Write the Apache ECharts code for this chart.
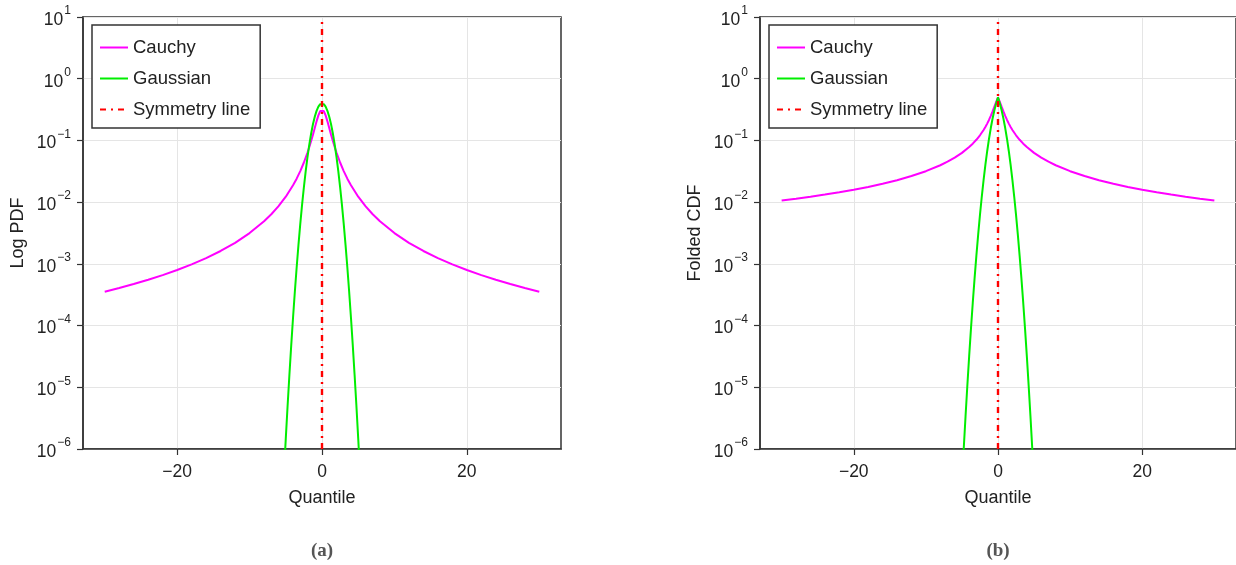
<!DOCTYPE html>
<html>
<head>
<meta charset="utf-8">
<script src="https://cdn.jsdelivr.net/npm/echarts@6/dist/echarts.min.js"></script>
<style>
  html, body { margin: 0; padding: 0; background: #fff; }
  #main { width: 1236px; height: 565px; }
</style>
</head>
<body>
<div id="main"></div>
<script>
// right half of each curve (x >= 0), mirrored below
const cauchyX = [0, 0.25, 0.5, 0.75, 1, 1.25, 1.5, 1.75, 2, 2.5, 3, 3.5, 4, 5, 6, 7, 8, 10, 12, 14, 16, 18, 20, 22, 24, 26, 28, 30];
const cauchyPdf = [0.3183, 0.2996, 0.2546, 0.2037, 0.1592, 0.1242, 0.09794, 0.07835, 0.06366, 0.04390, 0.03183, 0.02402, 0.01872, 0.01224, 0.008603, 0.006366, 0.004897, 0.003152, 0.002194, 0.001616, 0.001239, 0.0009794, 0.0007938, 0.0006563, 0.0005517, 0.0004702, 0.0004055, 0.0003533];
const cauchyFolded = [0.5, 0.4220, 0.3524, 0.2952, 0.25, 0.2148, 0.1872, 0.1652, 0.1476, 0.1211, 0.1024, 0.0886, 0.0780, 0.0628, 0.0526, 0.0452, 0.0396, 0.03173, 0.02646, 0.02270, 0.01987, 0.01766, 0.01590, 0.01446, 0.01325, 0.01224, 0.01136, 0.01061];

const gaussX = [0, 0.25, 0.5, 0.75, 1, 1.25, 1.5, 1.75, 2, 2.25, 2.5, 2.75, 3, 3.25, 3.5, 3.75, 4, 4.25, 4.5, 4.75, 5, 5.25, 5.5];
const gaussPdf = [0.3989, 0.3867, 0.3521, 0.3011, 0.2420, 0.1826, 0.1295, 0.08628, 0.05399, 0.03174, 0.01753, 0.009094, 0.004432, 0.002029, 0.0008727, 0.0003526, 0.0001338, 0.0000477, 0.00001598, 0.00000503, 0.000001487, 0.000000413, 0.000000108];
const gaussFolded = [0.5, 0.4013, 0.3085, 0.2266, 0.1587, 0.1056, 0.06681, 0.04006, 0.02275, 0.01222, 0.006210, 0.002980, 0.001350, 0.000577, 0.0002326, 0.0000884, 0.00003167, 0.0000107, 0.000003398, 0.000001017, 0.0000002867, 0.000000076, 0.000000019];

const symmetryX = 0;
const xTicks = [-20, 0, 20];
const yMin = 1e-6, yMax = 10;

const names = ['Cauchy', 'Gaussian', 'Symmetry line'];
const yNames = ['Log PDF', 'Folded CDF'];
const captions = ['(a)', '(b)'];

function mirror(xs, ys) {
  const out = [];
  for (let i = xs.length - 1; i > 0; i--) out.push([-xs[i], ys[i]]);
  for (let i = 0; i < xs.length; i++) out.push([xs[i], ys[i]]);
  return out;
}

const FONT = '"Liberation Sans", Arial, sans-serif';
const AX = '#222';

function supLabel(v) {
  const e = Math.round(Math.log10(v));
  return '{b|10}{s|' + (e < 0 ? '\u2212' + (-e) : e) + '}';
}

const gridLefts = [83, 760];
const gridWidths = [478, 476];
const grids = gridLefts.map((l, i) => ({
  left: l, top: 17, width: gridWidths[i], height: 432,
  show: true, borderColor: '#333', borderWidth: 1.5, backgroundColor: 'transparent'
}));

const xAxes = [0, 1].map(i => ({
  gridIndex: i, type: 'value', min: -33, max: 33,
  name: 'Quantile', nameLocation: 'middle', nameGap: 40,
  nameTextStyle: { fontFamily: FONT, fontSize: 18, color: AX },
  axisLine: { show: true, onZero: false, lineStyle: { color: '#333', width: 1.5 } },
  axisTick: { show: true, length: 6, customValues: xTicks, lineStyle: { color: '#333', width: 1.2 } },
  axisLabel: {
    customValues: xTicks, margin: 14, fontFamily: FONT, fontSize: 17.5, color: AX,
    formatter: v => (v < 0 ? '\u2212' + (-v) : '' + v)
  },
  splitLine: { show: true, customValues: xTicks, lineStyle: { color: '#e5e5e5', width: 1 } }
}));

const yAxes = [0, 1].map(i => ({
  gridIndex: i, type: 'log', logBase: 10, min: yMin, max: yMax, interval: 1,
  name: yNames[i], nameLocation: 'middle', nameGap: 56,
  nameTextStyle: { fontFamily: FONT, fontSize: 18, color: AX },
  axisLine: { show: true, onZero: false, lineStyle: { color: '#333', width: 1.5 } },
  axisTick: { show: true, length: 6, lineStyle: { color: '#333', width: 1.2 } },
  axisLabel: {
    margin: 12, formatter: supLabel, fontFamily: FONT, color: AX,
    rich: {
      b: { fontFamily: FONT, fontSize: 17.5, color: AX, verticalAlign: 'bottom', lineHeight: 24 },
      s: { fontFamily: FONT, fontSize: 12, color: AX, verticalAlign: 'top', lineHeight: 24, padding: [0, 0, 9, 1] }
    }
  },
  splitLine: { show: true, lineStyle: { color: '#e5e5e5', width: 1 } }
}));

const panelData = [
  [mirror(cauchyX, cauchyPdf), mirror(gaussX, gaussPdf)],
  [mirror(cauchyX, cauchyFolded), mirror(gaussX, gaussFolded)]
];

const series = [];
[0, 1].forEach(i => {
  series.push({
    name: 'Cauchy', type: 'line', xAxisIndex: i, yAxisIndex: i,
    data: panelData[i][0], showSymbol: false, symbol: 'none', clip: true,
    lineStyle: { color: '#ff00ff', width: 2 }, itemStyle: { color: '#ff00ff' }, z: 3
  });
  series.push({
    name: 'Gaussian', type: 'line', xAxisIndex: i, yAxisIndex: i,
    data: panelData[i][1], showSymbol: false, symbol: 'none', clip: true,
    lineStyle: { color: '#00ee00', width: 2 }, itemStyle: { color: '#00ee00' }, z: 4
  });
  series.push({
    name: 'Symmetry line', type: 'line', xAxisIndex: i, yAxisIndex: i,
    data: [[symmetryX, yMin], [symmetryX, yMax]], showSymbol: false, symbol: 'none',
    lineStyle: { color: '#ff0000', width: 2.4, type: [6, 5, 2, 5] }, itemStyle: { color: '#ff0000' }, z: 5
  });
});

const legends = gridLefts.map(l => ({
  data: names, orient: 'vertical', left: l + 9, top: 25,
  itemWidth: 28, itemHeight: 14, itemGap: 12,
  padding: [13, 10, 9, 7],
  borderColor: '#333', borderWidth: 1.5, backgroundColor: '#fff',
  itemStyle: { opacity: 0 },
  textStyle: { fontFamily: FONT, fontSize: 18.5, color: AX },
  selectedMode: false
}));

const option = {
  animation: false,
  backgroundColor: '#fff',
  grid: grids,
  xAxis: xAxes,
  yAxis: yAxes,
  legend: legends,
  series: series,
  graphic: captions.map((t, i) => ({
    type: 'text', x: gridLefts[i] + gridWidths[i] / 2, y: 551,
    style: {
      text: t, textAlign: 'center', textVerticalAlign: 'middle',
      font: 'bold 19px "Liberation Serif", "DejaVu Serif", serif', fill: '#555'
    }
  }))
};

const chart = echarts.init(document.getElementById('main'));
chart.setOption(option);
</script>
</body>
</html>
